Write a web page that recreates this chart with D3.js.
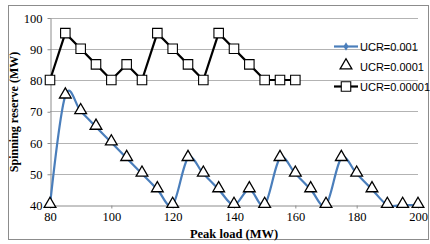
<!DOCTYPE html>
<html>
<head>
<meta charset="utf-8">
<script src="https://cdn.jsdelivr.net/npm/d3@7"></script>
<style>
  body { margin: 0; background: #fff; }
  svg { display: block; }
</style>
</head>
<body>
<div id="chart"></div>
<script>
// peak load (MW)
var loadA = [80, 85, 90, 95, 100, 105, 110, 115, 120, 125, 130, 135, 140, 145, 150, 155, 160, 165, 170, 175, 180, 185, 190, 195, 200];
// UCR=0.001 and UCR=0.0001 give the same reserve
var ucr001 = [40, 75, 70, 65, 60, 55, 50, 45, 40, 55, 50, 45, 40, 45, 40, 55, 50, 45, 40, 55, 50, 45, 40, 40, 40];
var ucr0001 = [40, 75, 70, 65, 60, 55, 50, 45, 40, 55, 50, 45, 40, 45, 40, 55, 50, 45, 40, 55, 50, 45, 40, 40, 40];
var loadB = [80, 85, 90, 95, 100, 105, 110, 115, 120, 125, 130, 135, 140, 145, 150, 155, 160];
var ucr00001 = [80, 95, 90, 85, 80, 85, 80, 95, 90, 85, 80, 95, 90, 85, 80, 80, 80];

var xTicks = [80, 100, 120, 140, 160, 180, 200];
var yTicks = [40, 50, 60, 70, 80, 90, 100];
var legendNames = ["UCR=0.001", "UCR=0.0001", "UCR=0.00001"];

var width = 430, height = 244;
var serif = "'Times New Roman', 'Liberation Serif', serif";

var svg = d3.select("#chart").append("svg")
	.attr("width", width)
	.attr("height", height);

// outer frame
svg.append("rect")
	.attr("x", 8.5).attr("y", 5.5)
	.attr("width", 420).attr("height", 234)
	.attr("fill", "#fff")
	.attr("stroke", "#8c8c8c");

var x = d3.scaleLinear().domain([80, 200]).range([50, 418]);
var y = d3.scaleLinear().domain([40, 100]).range([205, 17.5]);

// gridlines
svg.append("g").selectAll("line")
	.data(yTicks.slice(1))
	.enter().append("line")
	.attr("x1", x(80)).attr("x2", x(200))
	.attr("y1", function (d) { return Math.round(y(d)) + 0.5; })
	.attr("y2", function (d) { return Math.round(y(d)) + 0.5; })
	.attr("stroke", "#b3b3b3");

// axes
var yAxis = svg.append("g")
	.attr("transform", "translate(" + (x(80) + 0.5) + ",0.5)")
	.call(d3.axisLeft(y).tickValues(yTicks).tickSize(3).tickSizeOuter(0));
var xAxis = svg.append("g")
	.attr("transform", "translate(0," + (Math.round(y(40)) + 0.5) + ")")
	.call(d3.axisBottom(x).tickValues(xTicks).tickSize(3).tickSizeOuter(0));

[yAxis, xAxis].forEach(function (ax) {
	ax.select(".domain").attr("stroke", "#8c8c8c");
	ax.selectAll(".tick line").attr("stroke", "#8c8c8c");
	ax.selectAll(".tick text")
		.attr("font-family", serif)
		.attr("font-size", 12.5)
		.attr("fill", "#000");
});
yAxis.selectAll(".tick text").attr("x", -8);
xAxis.selectAll(".tick text").attr("y", 7);

// axis titles
svg.append("text")
	.attr("x", 234).attr("y", 238)
	.attr("text-anchor", "middle")
	.attr("font-family", serif)
	.attr("font-weight", "bold")
	.attr("font-size", 12.5)
	.text("Peak load (MW)");

svg.append("text")
	.attr("transform", "translate(18,112) rotate(-90)")
	.attr("text-anchor", "middle")
	.attr("font-family", serif)
	.attr("font-weight", "bold")
	.attr("font-size", 12)
	.text("Spinning reserve (MW)");

var blue = "#4a7ebb";

// UCR=0.001 smooth line
var smooth = d3.line()
	.x(function (d, i) { return x(loadA[i]); })
	.y(function (d) { return y(d); })
	.curve(d3.curveCardinal.tension(0));

svg.append("path")
	.datum(ucr001)
	.attr("d", smooth)
	.attr("fill", "none")
	.attr("stroke", blue)
	.attr("stroke-width", 2.2);

// UCR=0.00001 straight line with squares
var straight = d3.line()
	.x(function (d, i) { return x(loadB[i]); })
	.y(function (d) { return y(d); });

svg.append("path")
	.datum(ucr00001)
	.attr("d", straight)
	.attr("fill", "none")
	.attr("stroke", "#000")
	.attr("stroke-width", 2.2);

var sq = d3.symbol().type(d3.symbolSquare).size(90);
var tri = d3.symbol().type(d3.symbolTriangle).size(60);

svg.append("g").selectAll("path")
	.data(ucr00001)
	.enter().append("path")
	.attr("d", sq)
	.attr("transform", function (d, i) { return "translate(" + x(loadB[i]) + "," + y(d) + ")"; })
	.attr("fill", "#fff")
	.attr("stroke", "#000")
	.attr("stroke-width", 1.1);

// UCR=0.0001 markers only
svg.append("g").selectAll("path")
	.data(ucr0001)
	.enter().append("path")
	.attr("d", tri)
	.attr("transform", function (d, i) { return "translate(" + x(loadA[i]) + "," + (y(d) - 1) + ")"; })
	.attr("fill", "#fff")
	.attr("stroke", "#000")
	.attr("stroke-width", 1.3);

// legend
var legend = svg.append("g").attr("font-family", "'Liberation Sans', Arial, sans-serif").attr("font-size", 11);
var legendY = [46.5, 66.5, 86.5];

legend.append("line")
	.attr("x1", 334).attr("x2", 358).attr("y1", legendY[0]).attr("y2", legendY[0])
	.attr("stroke", blue).attr("stroke-width", 2.2);
legend.append("path")
	.attr("d", d3.symbol().type(d3.symbolDiamond).size(22))
	.attr("transform", "translate(346," + legendY[0] + ")")
	.attr("fill", blue);

legend.append("path")
	.attr("d", tri)
	.attr("transform", "translate(346," + (legendY[1] - 1) + ")")
	.attr("fill", "#fff").attr("stroke", "#000").attr("stroke-width", 1.3);

legend.append("line")
	.attr("x1", 334).attr("x2", 358).attr("y1", legendY[2]).attr("y2", legendY[2])
	.attr("stroke", "#000").attr("stroke-width", 2.2);
legend.append("path")
	.attr("d", sq)
	.attr("transform", "translate(346," + legendY[2] + ")")
	.attr("fill", "#fff").attr("stroke", "#000").attr("stroke-width", 1.1);

legend.selectAll("text")
	.data(legendNames)
	.enter().append("text")
	.attr("x", 360)
	.attr("y", function (d, i) { return legendY[i] + 4; })
	.text(function (d) { return d; });
</script>
</body>
</html>
